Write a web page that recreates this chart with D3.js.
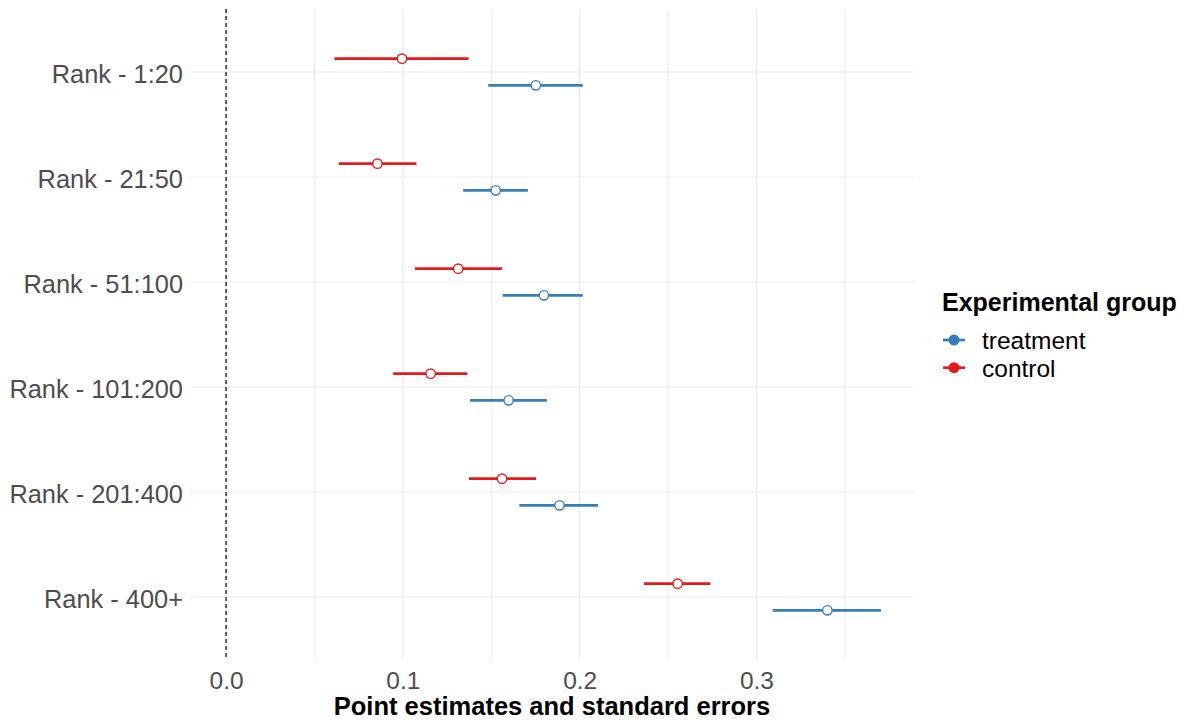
<!DOCTYPE html>
<html>
<head>
<meta charset="utf-8">
<script src="https://cdn.jsdelivr.net/npm/d3@7"></script>
<style>
  html, body { margin: 0; padding: 0; background: #fff; }
  svg { display: block; font-family: "Liberation Sans", Arial, sans-serif; }
</style>
</head>
<body>
<svg id="chart" width="1187" height="723"></svg>
<script>
// ---- data ----
const categories = ["Rank - 1:20", "Rank - 21:50", "Rank - 51:100", "Rank - 101:200", "Rank - 201:400", "Rank - 400+"];
const groups = ["treatment", "control"];
const controlEst = [0.0995, 0.0856, 0.1313, 0.1157, 0.1561, 0.2554];
const controlLo  = [0.0613, 0.0637, 0.1068, 0.0945, 0.1374, 0.2363];
const controlHi  = [0.1372, 0.1077, 0.1562, 0.1365, 0.1753, 0.2739];
const treatEst   = [0.1752, 0.1525, 0.1798, 0.1598, 0.1886, 0.3401];
const treatLo    = [0.1483, 0.1341, 0.1564, 0.1380, 0.1659, 0.3092];
const treatHi    = [0.2018, 0.1707, 0.2018, 0.1815, 0.2104, 0.3704];
const xTicks = [0, 0.1, 0.2, 0.3];
const xMinor = [0.05, 0.15, 0.25, 0.35];
const xTitle = "Point estimates and standard errors";
const legendTitle = "Experimental group";

const colors = { treatment: "#377EB8", control: "#E41A1C" };

const rows = [];
categories.forEach((c, i) => {
  rows.push({ cat: c, group: "control", est: controlEst[i], lo: controlLo[i], hi: controlHi[i] });
  rows.push({ cat: c, group: "treatment", est: treatEst[i], lo: treatLo[i], hi: treatHi[i] });
});

// ---- layout ----
const panel = { left: 190, right: 914, top: 9, bottom: 660 };
const svg = d3.select("#chart");

const x = d3.scaleLinear().domain([-0.0204, 0.3891]).range([panel.left, panel.right]);
const y = d3.scalePoint().domain(categories).range([panel.top, panel.bottom]).padding(0.6);
const dodge = { control: -0.127, treatment: 0.127 };
const yPos = d => y(d.cat) + dodge[d.group] * y.step();

// grid
const grid = svg.append("g");
grid.selectAll(".minor").data(xMinor).join("line")
  .attr("x1", d => x(d)).attr("x2", d => x(d))
  .attr("y1", panel.top).attr("y2", panel.bottom)
  .attr("stroke", "#EBEBEB").attr("stroke-width", 1);
grid.selectAll(".major").data(xTicks).join("line")
  .attr("x1", d => x(d)).attr("x2", d => x(d))
  .attr("y1", panel.top).attr("y2", panel.bottom)
  .attr("stroke", "#EBEBEB").attr("stroke-width", 1.2);
grid.selectAll(".hmajor").data(categories).join("line")
  .attr("x1", panel.left).attr("x2", panel.right)
  .attr("y1", d => y(d)).attr("y2", d => y(d))
  .attr("stroke", "#EBEBEB").attr("stroke-width", 1.2);

// zero reference line
svg.append("line")
  .attr("x1", x(0)).attr("x2", x(0))
  .attr("y1", panel.top).attr("y2", panel.bottom)
  .attr("stroke", "#000").attr("stroke-width", 1.2)
  .attr("stroke-dasharray", "4,3");

// error bars
svg.append("g").selectAll("line").data(rows).join("line")
  .attr("x1", d => x(d.lo)).attr("x2", d => x(d.hi))
  .attr("y1", yPos).attr("y2", yPos)
  .attr("stroke", d => colors[d.group]).attr("stroke-width", 2.7);

// points
svg.append("g").selectAll("circle").data(rows).join("circle")
  .attr("cx", d => x(d.est)).attr("cy", yPos).attr("r", 4.7)
  .attr("fill", "#fff").attr("stroke", d => colors[d.group]).attr("stroke-width", 1.4);

// x axis
const xAxis = svg.append("g").attr("transform", `translate(0,${panel.bottom})`)
  .call(d3.axisBottom(x).tickValues(xTicks).tickSize(0).tickPadding(11.6).tickFormat(d3.format(".1f")));
xAxis.select(".domain").remove();
xAxis.selectAll("text").attr("fill", "#4D4D4D").style("font-size", "24.5px")
  .style("font-family", "'Liberation Sans', Arial, sans-serif");

// y axis
const yAxis = svg.append("g").attr("transform", `translate(${panel.left},0)`)
  .call(d3.axisLeft(y).tickSize(0).tickPadding(7));
yAxis.select(".domain").remove();
yAxis.selectAll("text").attr("fill", "#4D4D4D").style("font-size", "25.4px")
  .attr("dy", "0.42em")
  .style("font-family", "'Liberation Sans', Arial, sans-serif");

// x title
svg.append("text")
  .attr("x", (panel.left + panel.right) / 2).attr("y", 715)
  .attr("text-anchor", "middle").attr("font-weight", "bold")
  .style("font-size", "25.5px").attr("fill", "#000").text(xTitle);

// legend
const lg = svg.append("g");
lg.append("text").attr("x", 942).attr("y", 311)
  .attr("font-weight", "bold").style("font-size", "25px").attr("fill", "#000").text(legendTitle);
const items = lg.selectAll("g.item").data(groups).join("g")
  .attr("transform", (d, i) => `translate(0,${340 + i * 27.7})`);
items.append("line").attr("x1", 943).attr("x2", 965).attr("y1", 0).attr("y2", 0)
  .attr("stroke", d => colors[d]).attr("stroke-width", 2.7);
items.append("circle").attr("cx", 954).attr("cy", 0).attr("r", 5.5)
  .attr("fill", d => colors[d]);
items.append("text").attr("x", 982).attr("y", 9.3)
  .style("font-size", "24.5px").attr("fill", "#000").text(d => d);
</script>
</body>
</html>
